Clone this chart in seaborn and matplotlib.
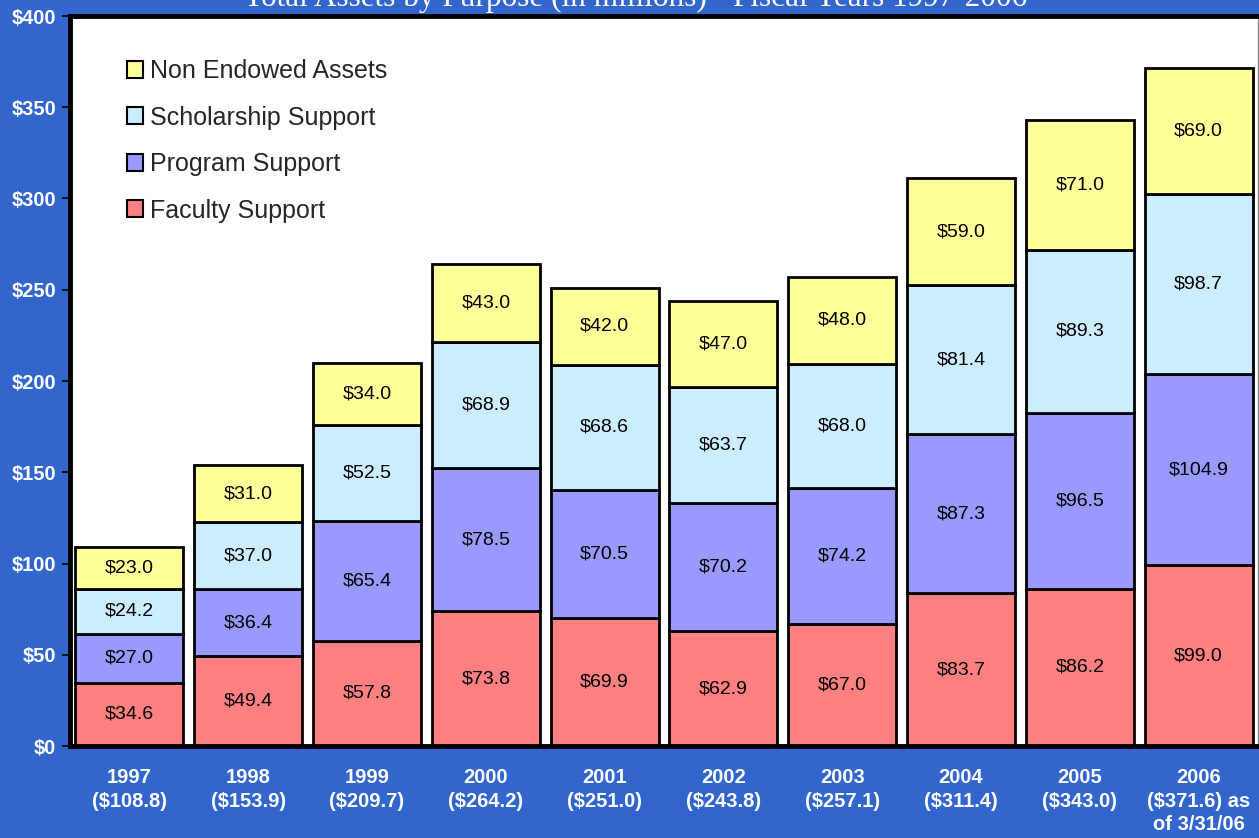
import numpy as np
import pandas as pd
import matplotlib
matplotlib.use('Agg')
import matplotlib.pyplot as plt
import seaborn as sns
from matplotlib.patches import Patch

years = ['1997\n($108.8)', '1998\n($153.9)', '1999\n($209.7)', '2000\n($264.2)',
         '2001\n($251.0)', '2002\n($243.8)', '2003\n($257.1)', '2004\n($311.4)',
         '2005\n($343.0)', '2006\n($371.6) as\nof 3/31/06']
faculty = [34.6, 49.4, 57.8, 73.8, 69.9, 62.9, 67.0, 83.7, 86.2, 99.0]
program = [27.0, 36.4, 65.4, 78.5, 70.5, 70.2, 74.2, 87.3, 96.5, 104.9]
scholarship = [24.2, 37.0, 52.5, 68.9, 68.6, 63.7, 68.0, 81.4, 89.3, 98.7]
non_endowed = [23.0, 31.0, 34.0, 43.0, 42.0, 47.0, 48.0, 59.0, 71.0, 69.0]

series = ['Faculty Support', 'Program Support', 'Scholarship Support', 'Non Endowed Assets']
colors = ['#FF8080', '#9999FF', '#CCECFF', '#FFFF99']

df = pd.DataFrame({'Year': years, 'Faculty Support': faculty, 'Program Support': program,
                   'Scholarship Support': scholarship, 'Non Endowed Assets': non_endowed})

sns.set_style('white')
plt.rcParams['font.family'] = ['Liberation Sans', 'DejaVu Sans']

fig = plt.figure(figsize=(12.59, 8.38), dpi=100, facecolor='#3366CC')
ax = fig.add_axes([70 / 1259, 92 / 838, 1188 / 1259, 730 / 838])
ax.set_facecolor('white')

bottom = np.zeros(len(years))
for name, col in zip(series, colors):
    vals = df[name].values
    sns.barplot(x='Year', y=name, data=df, color=col, bottom=bottom, width=0.91,
                edgecolor='black', linewidth=2, ax=ax, saturation=1)
    for i, v in enumerate(vals):
        ax.text(i, bottom[i] + v / 2, f'${v:.1f}', ha='center', va='center',
                fontsize=14, color='black')
    bottom = bottom + vals

ax.set_ylim(0, 400)
ax.set_xlim(-0.5, len(years) - 0.5)
ax.set_yticks(range(0, 401, 50))
ax.set_yticklabels([f'${v}' for v in range(0, 401, 50)], fontsize=14.5,
                   fontweight='bold', color='white')
ax.set_xticks(range(len(years)))
ax.set_xticklabels(years, fontsize=14.5, fontweight='bold', color='white',
                   linespacing=1.3)
ax.set_xticks(np.arange(-0.5, len(years), 1.0), minor=True)
ax.tick_params(axis='x', which='major', length=0, pad=16)
ax.tick_params(axis='x', which='minor', length=6, width=1.2, color='black', direction='out')
ax.tick_params(axis='y', length=6, width=1.2, color='black', direction='out', left=True, pad=4)
ax.set_xlabel('')
ax.set_ylabel('')

for side in ['left', 'bottom', 'top']:
    ax.spines[side].set_visible(True)
    ax.spines[side].set_color('black')
    ax.spines[side].set_linewidth(3.5)
ax.spines['right'].set_color('#888888')
ax.spines['right'].set_linewidth(1)

handles = [Patch(facecolor=c, edgecolor='black', linewidth=1.5, label=s)
           for s, c in zip(series[::-1], colors[::-1])]
ax.legend(handles=handles, loc='upper left', bbox_to_anchor=(0.048, 0.941),
          frameon=False, fontsize=18, handlelength=0.65, handleheight=0.65,
          handletextpad=0.25, labelspacing=0.9, borderpad=0, borderaxespad=0)

fig.text(636 / 1259, 1 - 6 / 838, 'Total Assets by Purpose (in millions) - Fiscal Years 1997-2006',
         ha='center', va='baseline', fontsize=22.5, color='white', family='Liberation Serif')

fig.savefig('out.png', dpi=100, facecolor=fig.get_facecolor())
